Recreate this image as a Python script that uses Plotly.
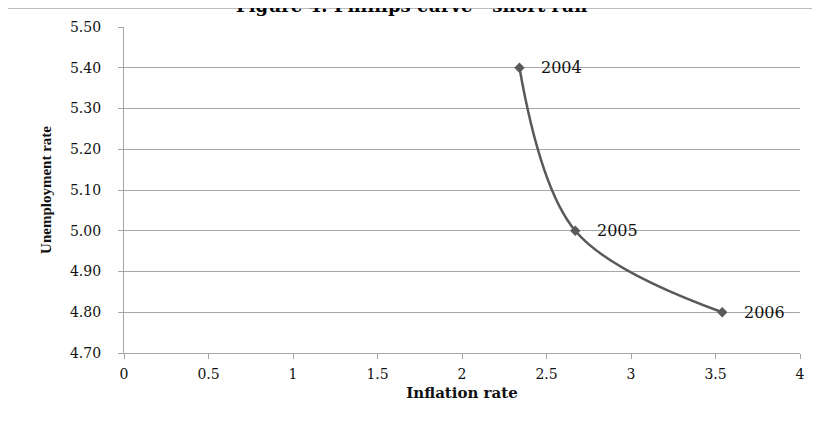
import plotly.graph_objects as go

inflation = [2.34, 2.67, 3.54]
unemployment = [5.40, 5.00, 4.80]
years = ["2004", "2005", "2006"]

x_ticks = [0, 0.5, 1, 1.5, 2, 2.5, 3, 3.5, 4]
x_tick_labels = ["0", "0.5", "1", "1.5", "2", "2.5", "3", "3.5", "4"]
y_ticks = [4.70, 4.80, 4.90, 5.00, 5.10, 5.20, 5.30, 5.40, 5.50]

LINE = "#595959"
GRID = "#a6a6a6"
WIDE = "DejaVu Serif"
NARROW = "Liberation Serif"

fig = go.Figure()
fig.add_trace(go.Scatter(
    x=inflation, y=unemployment, mode="lines+markers",
    line=dict(color=LINE, width=2.5, shape="spline", smoothing=1.0),
    marker=dict(symbol="diamond", size=8, color=LINE),
    hoverinfo="skip", showlegend=False,
))

for xv, yv, t in zip(inflation, unemployment, years):
    fig.add_annotation(x=xv, y=yv, text=t, showarrow=False, xanchor="left",
                       yanchor="middle", xshift=20, yshift=0,
                       font=dict(family=WIDE, size=16, color="#111111"))

# title (cut off at the top edge, as in the reference)
fig.add_annotation(xref="paper", yref="paper", x=0.425, y=1.066, xanchor="center",
                   yanchor="middle", showarrow=False,
                   text="<b>Figure 4: Phillips curve - short run</b>",
                   font=dict(family=WIDE, size=18, color="#000000"))

# outer frame (left and top edges visible)
fig.add_shape(type="line", xref="paper", yref="paper", x0=-0.173, x1=-0.173,
              y0=-0.4, y1=1.058, line=dict(color="#8c8c8c", width=1))
fig.add_shape(type="line", xref="paper", yref="paper", x0=-0.173, x1=1.1,
              y0=1.058, y1=1.058, line=dict(color="#8c8c8c", width=1))

fig.update_layout(
    width=820, height=423,
    margin=dict(l=116, r=28, t=19, b=78),
    paper_bgcolor="white", plot_bgcolor="white",
    font=dict(family=WIDE, size=14, color="#111111"),
    xaxis=dict(range=[0, 4], tickvals=x_ticks, ticktext=x_tick_labels,
               showgrid=False, zeroline=False, showline=True, linecolor=GRID,
               linewidth=1.3, ticks="outside", ticklen=5, tickcolor=GRID,
               ticklabelstandoff=3, tickfont=dict(family=WIDE, size=14),
               title=dict(text="<b>Inflation rate</b>", standoff=6,
                          font=dict(family=WIDE, size=15, color="#111111"))),
    yaxis=dict(range=[4.70, 5.50], tickvals=y_ticks, tickformat=".2f",
               showgrid=True, gridcolor=GRID, gridwidth=1.3, zeroline=False,
               showline=True, linecolor=GRID, linewidth=1.3, ticks="outside",
               ticklen=5, tickcolor=GRID, ticklabelstandoff=14,
               tickfont=dict(family=WIDE, size=14),
               title=dict(text="<b>Unemployment rate</b>", standoff=14,
                          font=dict(family=NARROW, size=15, color="#111111"))),
)

fig.write_html("out.html")
